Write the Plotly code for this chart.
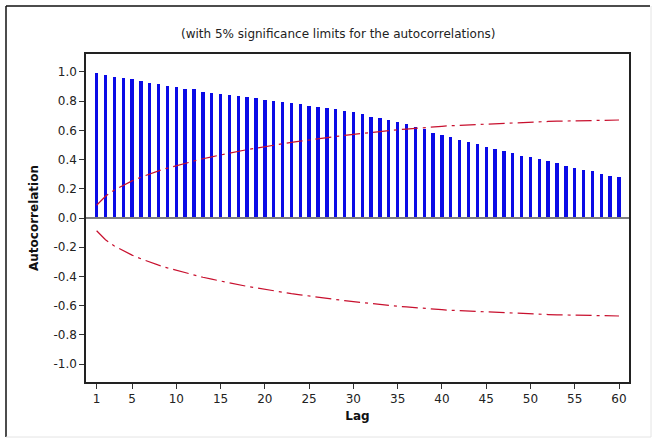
import plotly.graph_objects as go

# Autocorrelation at each lag
lags = list(range(1, 61))
acf = [
    0.991, 0.982, 0.968, 0.959, 0.950, 0.936, 0.927, 0.920, 0.904, 0.895,
    0.886, 0.881, 0.865, 0.858, 0.849, 0.842, 0.836, 0.827, 0.820, 0.809,
    0.801, 0.792, 0.785, 0.779, 0.769, 0.762, 0.753, 0.744, 0.733, 0.724,
    0.710, 0.694, 0.685, 0.669, 0.655, 0.642, 0.623, 0.612, 0.584, 0.570,
    0.553, 0.537, 0.521, 0.507, 0.489, 0.475, 0.459, 0.443, 0.427, 0.418,
    0.404, 0.388, 0.374, 0.358, 0.342, 0.327, 0.320, 0.303, 0.288, 0.281,
]

# 5% significance limit (upper; the lower limit is its negative)
sig_limit = [
    0.087, 0.149, 0.192, 0.225, 0.254, 0.279, 0.302, 0.323, 0.342, 0.359,
    0.376, 0.391, 0.406, 0.419, 0.432, 0.445, 0.456, 0.468, 0.478, 0.489,
    0.499, 0.508, 0.518, 0.526, 0.535, 0.543, 0.551, 0.559, 0.566, 0.573,
    0.580, 0.587, 0.593, 0.599, 0.604, 0.609, 0.615, 0.619, 0.624, 0.628,
    0.632, 0.635, 0.639, 0.642, 0.645, 0.648, 0.650, 0.653, 0.655, 0.657,
    0.659, 0.661, 0.663, 0.664, 0.666, 0.667, 0.668, 0.669, 0.670, 0.671,
]

x_ticks = [1, 5, 10, 15, 20, 25, 30, 35, 40, 45, 50, 55, 60]
y_ticks = [-1.0, -0.8, -0.6, -0.4, -0.2, 0.0, 0.2, 0.4, 0.6, 0.8, 1.0]
y_tick_text = ["-1.0", "-0.8", "-0.6", "-0.4", "-0.2", "0.0",
               "0.2", "0.4", "0.6", "0.8", "1.0"]

FONT = "DejaVu Sans"
LIMIT_COLOR = "#C8102E"

fig = go.Figure()

fig.add_trace(go.Bar(
    x=lags, y=acf, width=0.38,
    marker=dict(color="#0A0AE6", line=dict(width=0)),
    showlegend=False, hoverinfo="x+y",
))

for sign in (1, -1):
    fig.add_trace(go.Scatter(
        x=lags, y=[sign * v for v in sig_limit],
        mode="lines",
        line=dict(color=LIMIT_COLOR, width=1.2, dash="16px,5px,3px,5px"),
        showlegend=False, hoverinfo="skip",
    ))

W, H = 654, 441
ML, MR, MT, MB = 86, 25, 54, 59
pw, ph = W - ML - MR, H - MT - MB


def px_x(p):
    return (p - ML) / pw


def px_y(p):
    return (H - MB - p) / ph


shapes = [
    # zero reference line
    dict(type="line", xref="paper", yref="y", x0=0, x1=1, y0=0, y1=0,
         line=dict(color="#7f7f7f", width=2), layer="above"),
    # outer graph frame: dark top/left, faint right/bottom
    dict(type="line", xref="paper", yref="paper",
         x0=px_x(6), x1=px_x(650), y0=px_y(6), y1=px_y(6),
         line=dict(color="#111111", width=1.5)),
    dict(type="line", xref="paper", yref="paper",
         x0=px_x(6), x1=px_x(6), y0=px_y(6), y1=px_y(437),
         line=dict(color="#111111", width=1.5)),
    dict(type="line", xref="paper", yref="paper",
         x0=px_x(651), x1=px_x(651), y0=px_y(6), y1=px_y(437),
         line=dict(color="#e4e4e4", width=1)),
    dict(type="line", xref="paper", yref="paper",
         x0=px_x(6), x1=px_x(651), y0=px_y(437), y1=px_y(437),
         line=dict(color="#e4e4e4", width=1)),
]

fig.update_layout(
    width=W, height=H,
    margin=dict(l=ML, r=MR, t=MT, b=MB, pad=0),
    paper_bgcolor="white", plot_bgcolor="white",
    font=dict(family=FONT, size=12, color="#222222"),
    bargap=0,
    shapes=shapes,
    annotations=[
        dict(text="(with 5% significance limits for the autocorrelations)",
             xref="paper", yref="paper", x=px_x(338), y=px_y(34),
             xanchor="center", yanchor="middle", showarrow=False,
             font=dict(family=FONT, size=12, color="#222222")),
    ],
    xaxis=dict(
        range=[-0.2, 61.13], tickmode="array", tickvals=x_ticks,
        ticks="outside", ticklen=5, tickwidth=1, tickcolor="#333333",
        showline=True, linecolor="#222222", linewidth=1.5, mirror=True,
        showgrid=False, zeroline=False,
        tickfont=dict(family=FONT, size=12, color="#222222"),
        title=dict(text="<b>Lag</b>", standoff=6,
                   font=dict(family=FONT, size=12, color="#111111")),
    ),
    yaxis=dict(
        range=[-1.123, 1.123], tickmode="array", tickvals=y_ticks,
        ticktext=y_tick_text,
        ticks="outside", ticklen=5, tickwidth=1, tickcolor="#333333",
        showline=True, linecolor="#222222", linewidth=1.5, mirror=True,
        showgrid=False, zeroline=False,
        tickfont=dict(family=FONT, size=12, color="#222222"),
        title=dict(text="<b>Autocorrelation</b>", standoff=12,
                   font=dict(family=FONT, size=12, color="#111111")),
    ),
)

fig.write_html("out.html")
